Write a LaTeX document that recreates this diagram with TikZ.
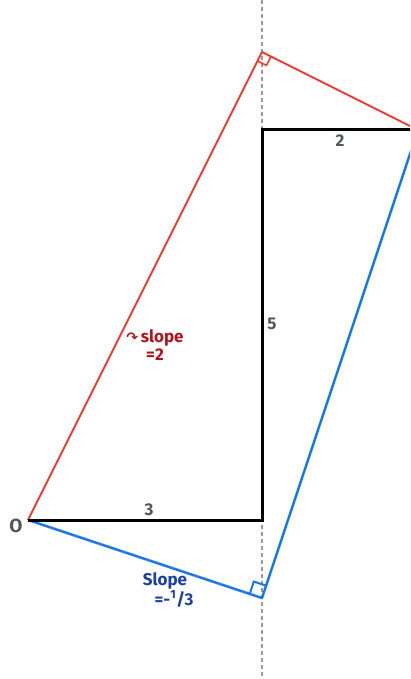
\documentclass[tikz,border=0pt]{standalone}
\usepackage{fontspec}
\setmainfont{Fira Sans}
\newfontfamily\symfont{DejaVu Sans}
\usetikzlibrary{calc}
\definecolor{redline}{HTML}{EE3B2C}
\definecolor{blueline}{HTML}{1877F0}
\definecolor{redtxt}{HTML}{B0141E}
\definecolor{bluetxt}{HTML}{1E3FA5}
\definecolor{graytxt}{HTML}{4E5A5A}
\definecolor{dashgray}{HTML}{9A9A9A}
\tikzset{
  blk/.style={line width=3pt,black},
  redl/.style={line width=2pt,redline},
  bluel/.style={line width=2.4pt,blueline},
  guide/.style={line width=1.8pt,dashgray,dash pattern=on 4pt off 3pt},
  numlbl/.style={font=\bfseries\fontsize{17}{17}\selectfont,text=graytxt,inner sep=0pt},
  redlbl/.style={font=\bfseries\fontsize{17}{17}\selectfont,text=redtxt,inner sep=0pt},
  bluelbl/.style={font=\bfseries\fontsize{17}{17}\selectfont,text=bluetxt,inner sep=0pt},
}
\begin{document}
\begin{tikzpicture}[x=1pt,y=-1pt]
\useasboundingbox (0,0) rectangle (410,679);
\clip (0,0) rectangle (410,679);
\fill[white] (0,0) rectangle (410,679);
% coordinates
\coordinate (O) at (28,520);
\coordinate (A) at (262,520);
\coordinate (B) at (262,130);
\coordinate (C) at (418,130);
\coordinate (R) at (262,52);
\coordinate (BL) at (262,598);
\coordinate (GT) at (262,0);
\coordinate (GB) at (262,676);
% guide
\draw[guide] (GT) -- (GB);
% red
\draw[redl,line join=round] (O) -- (R) -- (C);
\coordinate (r1) at ($(R)!10pt!(O)$);
\coordinate (r3) at ($(R)!10pt!(C)$);
\draw[redl,line width=1.6pt] (r1) -- ($(r1)+(r3)-(R)$) -- (r3);
% blue
\draw[bluel,line join=round] (O) -- (BL) -- (C);
\coordinate (b1) at ($(BL)!13pt!(O)$);
\coordinate (b3) at ($(BL)!13pt!(C)$);
\draw[bluel,line width=2pt] (b1) -- ($(b1)+(b3)-(BL)$) -- (b3);
% black
\draw[blk,line join=miter] (O) -- (A) -- (B) -- (C);
% labels
\node[numlbl] (lO) at (16,526) {\fontsize{19}{19}\selectfont O};
\node[numlbl] (l3) at (149,510) {3};
\node[numlbl] (l5) at (272,324) {5};
\node[numlbl] (l2) at (340,141) {2};
\node[redlbl,anchor=base] (lred1) at (155,342) {{\symfont\fontsize{14}{14}\selectfont ↷}\,slope};
\node[redlbl,anchor=base] (lred2) at (155,360) {=2};
\node[bluelbl,anchor=base] (lblue1) at (165,585) {Slope};
\node[bluelbl,anchor=base] (lblue2) at (174,605) {=-\textsuperscript{1}/3};
\end{tikzpicture}
\end{document}
